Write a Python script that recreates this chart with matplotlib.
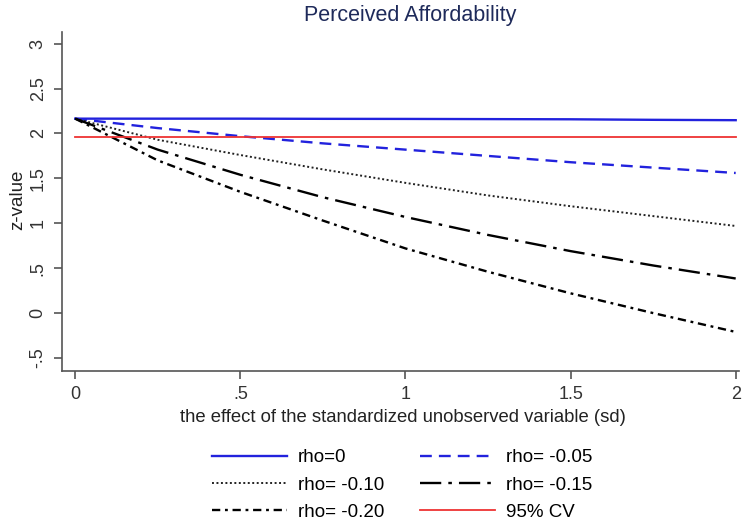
import matplotlib
matplotlib.use("Agg")
import matplotlib.pyplot as plt

plt.rcParams['font.family'] = ['Liberation Sans', 'DejaVu Sans']

# effect of the unobserved variable (sd)
x = [0, 0.25, 0.5, 0.75, 1.0, 1.25, 1.5, 1.75, 2.0]

# z-values
z_rho_000 = [2.165, 2.165, 2.165, 2.163, 2.162, 2.16, 2.158, 2.152, 2.148]
z_rho_005 = [2.165, 2.06, 1.97, 1.89, 1.82, 1.75, 1.68, 1.62, 1.56]
z_rho_010 = [2.165, 1.93, 1.76, 1.60, 1.45, 1.31, 1.19, 1.08, 0.97]
z_rho_015 = [2.165, 1.82, 1.54, 1.29, 1.07, 0.87, 0.69, 0.53, 0.385]
z_rho_020 = [2.165, 1.70, 1.35, 1.03, 0.72, 0.46, 0.22, 0.0, -0.21]
cv_95 = 1.96

xticks = [0, 0.5, 1, 1.5, 2]
xtick_labels = ["0", ".5", "1", "1.5", "2"]
yticks = [-0.5, 0, 0.5, 1, 1.5, 2, 2.5, 3]
ytick_labels = ["-.5", "0", ".5", "1", "1.5", "2", "2.5", "3"]

fig = plt.figure(figsize=(7.42, 5.23), dpi=100)
ax = fig.add_axes([62 / 742, 1 - 371 / 523, 677 / 742, 339 / 523])

blue = "#2222dd"
lw = 1.7
l0, = ax.plot(x, z_rho_000, color=blue, lw=lw, label="rho=0")
l1, = ax.plot(x, z_rho_005, color=blue, lw=lw, dashes=(5, 3), label="rho= -0.05")
l2, = ax.plot(x, z_rho_010, color="#222222", lw=1.4, dashes=(1, 1.3), label="rho= -0.10")
l3, = ax.plot(x, z_rho_015, color="black", lw=lw, dashes=(9, 3, 1.5, 3), label="rho= -0.15")
l4, = ax.plot(x, z_rho_020, color="black", lw=lw, dashes=(3.5, 2, 1.2, 2), label="rho= -0.20")
l5, = ax.plot([x[0], x[-1]], [cv_95, cv_95], color="#ee3333", lw=1.3, label="95% CV")

ax.set_xlim(-0.04, 2.01)
ax.set_ylim(-0.645, 3.13)

for side in ["top", "right"]:
    ax.spines[side].set_visible(False)
for side in ["left", "bottom"]:
    ax.spines[side].set_color("#555555")
    ax.spines[side].set_linewidth(1.2)

ax.set_xticks(xticks)
ax.set_xticklabels(xtick_labels)
ax.set_yticks(yticks)
ax.set_yticklabels(ytick_labels, rotation=90, va="center")
ax.tick_params(direction="out", length=6, width=1.2, color="#555555",
               labelcolor="#333333", labelsize=13, pad=5)

# title and axis titles placed like the Stata graph
fig.text(410 / 742, 1 - 15 / 523, "Perceived Affordability", color="#1e2a5a",
         fontsize=15.5, ha="center", va="center")
fig.text(18 / 742, 1 - 200 / 523, "z-value", fontsize=13.5, color="#222222",
         rotation=90, ha="center", va="center")
fig.text(403 / 742, 1 - 418 / 523,
         "the effect of the standardized unobserved variable (sd)",
         fontsize=13.3, color="#222222", ha="center", va="center")

# legend filled row by row, two columns
handles = [l0, l2, l4, l1, l3, l5]
labels = [h.get_label() for h in handles]
fig.legend(handles, labels, ncol=2, loc="center", bbox_to_anchor=(402 / 742, 1 - 485 / 523),
           frameon=False, fontsize=13.5, handlelength=4.0, columnspacing=1.9,
           labelspacing=0.55, handletextpad=0.6, borderpad=0, borderaxespad=0)

fig.savefig("out.png", dpi=100, facecolor="white")
